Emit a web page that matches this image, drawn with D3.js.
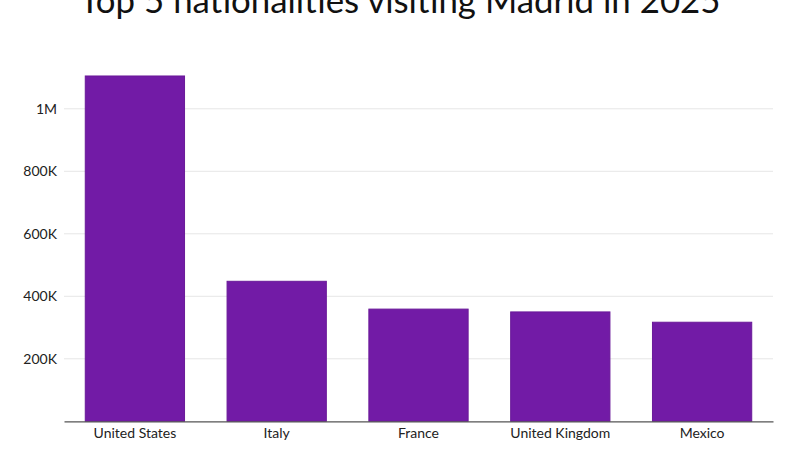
<!DOCTYPE html>
<html>
<head>
<meta charset="utf-8">
<script src="https://cdn.jsdelivr.net/npm/d3@7"></script>
<style>
  body { margin: 0; background: #fff; }
  text { font-family: Lato, "Noto Sans", sans-serif; }
</style>
</head>
<body>
<svg id="bar-plot"></svg>
<script>
const countries = ["United States", "Italy", "France", "United Kingdom", "Mexico"];
const visitors = [1105000, 448000, 359000, 350000, 317000];
const yTicks = [200000, 400000, 600000, 800000, 1000000];
const yTickLabels = ["200K", "400K", "600K", "800K", "1M"];
const plotTitle = "Top 5 nationalities visiting Madrid in 2025";

const width = 800;
const height = 450;
const svg = d3.select("#bar-plot").attr("width", width).attr("height", height);

const margin = { top: 108.8, bottom: 28.7, left: 64, right: 27 };
const innerWidth = width - margin.left - margin.right;
const innerHeight = height - margin.top - margin.bottom;

const xScale = d3.scaleBand()
  .domain(countries)
  .range([0, innerWidth])
  .paddingInner(0.3)
  .paddingOuter(0.15);

const yScale = d3.scaleLinear()
  .domain([0, 1000000])
  .range([innerHeight, 0]);

const g = svg.append("g")
  .attr("transform", `translate(${margin.left},${margin.top})`);

// gridlines
g.selectAll(".grid")
  .data(yTicks)
  .join("line")
  .attr("x1", 0)
  .attr("x2", innerWidth)
  .attr("y1", (d) => yScale(d))
  .attr("y2", (d) => yScale(d))
  .attr("stroke", "#e6e6e6")
  .attr("stroke-width", 1);

// y-Axis
const yAxis = d3.axisLeft(yScale)
  .tickValues(yTicks)
  .tickFormat((d, i) => yTickLabels[i])
  .tickSize(0)
  .tickPadding(7);
const yAxisG = g.append("g").call(yAxis);
yAxisG.select(".domain").remove();
yAxisG.selectAll("text").attr("font-size", 14).attr("fill", "#222");

// bars
g.selectAll(".bar")
  .data(countries)
  .join("rect")
  .attr("x", (d) => xScale(d))
  .attr("y", (d, i) => yScale(visitors[i]))
  .attr("width", xScale.bandwidth())
  .attr("height", (d, i) => innerHeight - yScale(visitors[i]))
  .attr("fill", "#721ba6")
  .attr("stroke", "#6a1999")
  .attr("stroke-width", 1);

// x-Axis
const xAxis = d3.axisBottom(xScale).tickSize(0).tickPadding(7);
const xAxisG = g.append("g")
  .attr("transform", `translate(0,${innerHeight})`)
  .call(xAxis);
xAxisG.select(".domain").attr("stroke", "#555").attr("stroke-width", 1.2);
xAxisG.selectAll("text").attr("font-size", 14).attr("fill", "#222");

// title (cut off at the top edge, as in the reference)
svg.append("text")
  .attr("x", width / 2)
  .attr("y", 13)
  .attr("text-anchor", "middle")
  .attr("font-size", 34)
  .attr("fill", "#111")
  .attr("textLength", 641)
  .attr("lengthAdjust", "spacingAndGlyphs")
  .text(plotTitle);
</script>
</body>
</html>
